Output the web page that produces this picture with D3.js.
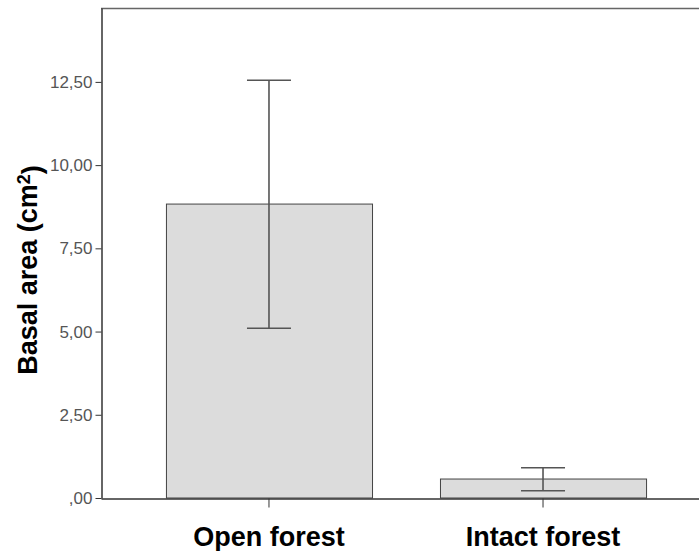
<!DOCTYPE html>
<meta charset="utf-8">
<script src="https://d3js.org/d3.v7.min.js"></script>
<style>
  * {margin: 0; padding: 0;}
  body {background: #fff;}
  .ycustom text {
    fill: #555;
    font-size: 17px;
    font-family: "Liberation Sans", Arial, sans-serif;
  }
  .ycustom line, .ycustom path {stroke: #333;}
  .xcustom line, .xcustom path {stroke: #333;}
  .xcustom text {
    fill: #000;
    font-size: 27px;
    font-weight: bold;
    font-family: "Liberation Sans", Arial, sans-serif;
  }
  .ylabel {
    font-size: 27px;
    font-weight: bold;
    font-family: "Liberation Sans", Arial, sans-serif;
  }
</style>
<body>
<div id="my_dataviz"></div>
<script>

// data
var categories = ["Open forest", "Intact forest"];
var means = [8.83, 0.57];
var ciLow = [5.10, 0.22];
var ciHigh = [12.55, 0.91];
var yTicks = [0, 2.5, 5, 7.5, 10, 12.5];

var W = 699, H = 551;
var plotLeft = 101, plotTop = 8, plotBottom = 498;

var svg = d3.select("#my_dataviz")
  .append("svg")
    .attr("width", W)
    .attr("height", H);

var y = d3.scaleLinear()
  .domain([0, 14.72])
  .range([plotBottom, plotTop]);

var x = d3.scaleBand()
  .domain(categories)
  .range([plotLeft, 711])
  .paddingInner(0.248)
  .paddingOuter(0.237);

// spss style numbers: 2,50 and ,00
var fmt = function(d) {
  var s = d3.format(".2f")(d).replace(".", ",");
  return d === 0 ? s.replace(/^0/, "") : s;
};

// top frame line
svg.append("line")
  .attr("x1", plotLeft).attr("x2", W)
  .attr("y1", plotTop + 0.5).attr("y2", plotTop + 0.5)
  .attr("stroke", "#666")
  .attr("stroke-width", 1.5);

// bars
svg.selectAll(".bar")
  .data(categories)
  .enter()
  .append("rect")
    .attr("class", "bar")
    .attr("x", function(d) { return x(d) + 0.5; })
    .attr("y", function(d, i) { return y(means[i]); })
    .attr("width", x.bandwidth())
    .attr("height", function(d, i) { return plotBottom - y(means[i]); })
    .style("fill", "#dcdcdc")
    .style("stroke", "#444")
    .style("stroke-width", 1);

// error bars
var cap = 22;
var eb = svg.selectAll(".err")
  .data(categories)
  .enter()
  .append("g")
    .attr("class", "err")
    .attr("stroke", "#555")
    .attr("stroke-width", 1.6);

eb.append("line")
  .attr("x1", function(d) { return x(d) + x.bandwidth() / 2; })
  .attr("x2", function(d) { return x(d) + x.bandwidth() / 2; })
  .attr("y1", function(d, i) { return y(ciLow[i]); })
  .attr("y2", function(d, i) { return y(ciHigh[i]); });

eb.append("line")
  .attr("x1", function(d) { return x(d) + x.bandwidth() / 2 - cap; })
  .attr("x2", function(d) { return x(d) + x.bandwidth() / 2 + cap; })
  .attr("y1", function(d, i) { return y(ciHigh[i]); })
  .attr("y2", function(d, i) { return y(ciHigh[i]); });

eb.append("line")
  .attr("x1", function(d) { return x(d) + x.bandwidth() / 2 - cap; })
  .attr("x2", function(d) { return x(d) + x.bandwidth() / 2 + cap; })
  .attr("y1", function(d, i) { return y(ciLow[i]); })
  .attr("y2", function(d, i) { return y(ciLow[i]); });

// Y axis
svg.append("g")
  .attr("class", "ycustom")
  .attr("transform", "translate(" + (plotLeft + 0.5) + ",0)")
  .call(d3.axisLeft(y)
    .tickValues(yTicks)
    .tickFormat(fmt)
    .tickSize(6)
    .tickSizeOuter(0)
    .tickPadding(3))
  .select(".domain")
    .attr("stroke-width", 1.5);

// X axis
var xa = svg.append("g")
  .attr("class", "xcustom")
  .attr("transform", "translate(0," + (plotBottom + 0.5) + ")")
  .call(d3.axisBottom(x)
    .tickSize(9)
    .tickSizeOuter(0)
    .tickPadding(10));
xa.select(".domain").attr("stroke-width", 1.5);
xa.selectAll("text").attr("dy", "1.05em");

// Y label
var yl = svg.append("text")
  .attr("class", "ylabel")
  .attr("text-anchor", "middle")
  .attr("transform", "translate(37,270) rotate(-90)");
yl.append("tspan").text("Basal area (cm");
yl.append("tspan").attr("dy", "-0.4em").style("font-size", "18px").text("2");
yl.append("tspan").attr("dy", "0.4em").text(")");

</script>
</body>
